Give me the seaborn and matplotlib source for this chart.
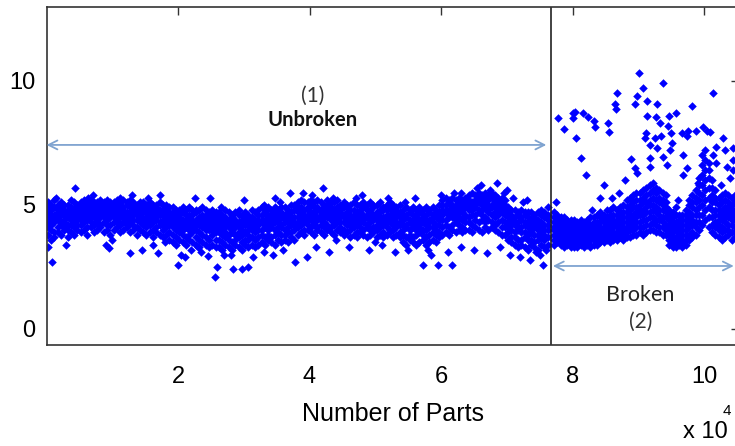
import numpy as np
import pandas as pd
import matplotlib
matplotlib.use("Agg")
import matplotlib.pyplot as plt
import seaborn as sns

# ---------------- data (x in units of 10^4 parts, y in tenths for the dense bands) -------------
unb_start, unb_step = 0.02, 0.05
unb_band = [
    # A 0.02-0.47
    [38,41,43,45,47,49,51],[36,40,42,44,46,48,50],[37,39,43,45,46,49,52],[39,41,44,45,47,48,50],
    [38,42,43,46,47,49,51],[40,41,43,44,46,48,50],[37,40,42,45,47,48,50],[39,42,44,46,47,49,52],
    [38,41,43,45,46,48,51],[40,42,44,45,47,49,50],
    # B 0.52-1.47
    [39,42,44,46,48,49,51],[40,43,45,46,47,50,52],[38,41,44,46,48,49,51],[41,43,45,47,48,50,52],
    [39,42,45,46,47,49,51],[40,43,44,46,48,50,51],[41,42,45,47,49,50,52],[39,43,45,46,48,49,51],
    [40,42,44,47,48,50,52],[38,42,45,46,48,49,51],[40,43,45,47,48,50,51],[41,43,44,46,47,49,52],
    [39,42,45,47,48,50,51],[40,43,45,46,48,49,52],[41,42,44,46,47,50,51],[39,43,45,47,49,50,52],
    [40,42,44,46,48,49,51],[38,41,44,46,47,49,50],[40,43,45,46,48,50,51],[39,42,44,47,48,49,51],
    # C 1.52-1.87
    [38,41,43,45,47,48,50],[39,42,44,46,47,49,51],[37,40,43,45,46,48,50],[39,41,44,45,47,49,50],
    [38,42,43,46,47,48,51],[37,40,42,44,46,48,50],[38,41,43,45,47,49,50],[36,39,42,44,46,47,49],
    # D 1.92-2.57
    [35,38,41,43,45,47,49],[34,37,40,42,44,46,48],[36,39,41,43,45,46,48],[35,38,40,42,44,47,49],
    [34,37,41,43,44,46,48],[36,38,40,42,45,46,49],[35,39,41,43,44,46,48],[34,37,40,42,44,47,48],
    [33,36,39,42,44,45,48],[35,38,41,43,45,46,49],[34,37,40,42,44,46,48],[33,36,40,41,43,45,47],
    [34,38,40,42,44,46,48],[33,36,39,41,43,45,47],
    # E 2.62-3.17
    [33,36,39,41,43,45,47],[32,35,38,40,42,44,46],[34,37,39,41,43,45,48],[33,36,38,41,42,44,47],
    [32,35,39,40,43,45,46],[34,36,38,41,42,44,47],[33,37,39,41,43,46,48],[32,35,38,40,42,44,46],
    [34,36,39,42,43,45,47],[33,36,38,40,42,44,46],[34,37,40,41,43,45,48],[33,36,39,41,42,44,47],
    # F 3.22-3.77
    [34,37,40,42,44,46,48],[35,38,40,43,44,46,49],[34,37,41,42,44,47,48],[36,38,40,43,45,46,49],
    [35,37,41,42,44,46,48],[34,38,40,43,45,47,49],[36,39,41,43,44,46,48],[35,38,41,42,45,47,49],
    [36,38,40,43,44,46,49],[35,39,41,43,45,47,48],[37,39,42,44,45,47,50],[36,40,42,43,45,48,50],
    # G 3.82-4.57
    [38,41,43,45,47,49,51],[39,42,44,46,47,49,52],[38,40,43,45,46,48,51],[40,42,44,46,48,49,51],
    [39,41,44,45,47,50,52],[38,42,43,46,47,49,51],[40,41,44,45,48,49,52],[39,42,44,46,47,48,51],
    [38,41,43,45,47,49,50],[40,42,45,46,48,50,52],[39,41,44,46,47,49,51],[38,42,43,45,46,48,51],
    [40,43,44,46,48,49,52],[39,41,43,45,47,48,50],[38,40,43,45,46,49,51],[39,42,44,46,47,49,50],
    # H 4.62-5.37
    [37,40,42,44,46,48,50],[38,41,43,45,46,48,51],[37,39,42,44,45,47,50],[39,41,43,45,47,48,50],
    [38,40,43,44,46,49,51],[37,41,42,45,46,48,50],[38,40,43,44,47,48,51],[39,41,44,45,46,49,50],
    [37,40,42,44,46,47,50],[38,41,43,45,47,48,51],[37,39,42,44,45,48,49],[38,41,43,44,46,48,50],
    [39,40,43,45,46,49,51],[37,40,42,44,47,48,50],[38,41,43,45,46,48,49],[37,39,42,43,45,47,50],
    # I 5.42-5.97
    [35,38,40,42,44,46,48],[34,37,41,42,45,46,49],[36,38,40,43,44,47,48],[35,37,41,42,44,46,49],
    [34,38,40,43,45,46,48],[35,39,41,42,44,47,49],[36,38,40,43,45,46,48],[34,37,40,42,44,46,49],
    [35,38,41,43,44,47,48],[36,39,41,43,45,46,49],[35,38,40,42,45,47,48],[37,39,42,44,45,47,50],
    # J 6.02-6.37
    [38,41,44,46,48,50,52],[39,42,44,47,48,50,53],[38,41,45,46,48,51,52],[40,42,45,47,49,50,53],
    [39,43,44,46,48,50,52],[40,42,45,47,49,51,53],[39,41,44,47,48,50,52],[40,43,45,46,49,51,53],
    # K 6.42-6.97
    [40,43,45,48,50,52,54],[39,42,46,48,49,51,55],[41,44,46,49,50,52,54],[40,43,47,48,51,53,55],
    [39,44,46,48,50,52,54],[41,43,45,49,51,53,55],[40,44,47,48,50,52,54],[41,43,46,49,50,53,55],
    [40,42,45,47,49,51,54],[39,43,46,48,50,52,53],[38,41,44,47,49,51,53],[38,41,43,46,48,50,52],
    # L 7.02-7.62
    [36,39,41,43,45,47,49],[35,37,40,42,44,46,48],[34,37,39,42,43,45,48],[33,36,40,41,43,46,47],
    [34,36,39,41,44,45,48],[33,37,39,42,43,46,47],[32,36,38,41,43,45,47],[34,36,39,40,42,44,47],
    [33,35,38,41,43,45,46],[32,36,38,40,42,44,47],[34,37,39,41,43,46,48],[33,36,38,40,42,45,47],
    [34,37,40,42,44,46,49],
]

unb_out_x = [0.08,0.03,0.9,0.95,1.27,1.45,1.7,1.62,2.0,2.05,2.1,2.2,2.35,2.45,2.56,2.59,2.7,2.84,
             2.97,3.07,3.14,3.3,3.45,3.6,3.78,3.96,4.1,4.3,4.6,4.9,5.1,5.3,5.5,5.73,5.85,5.96,6.1,
             6.17,6.3,6.5,6.7,6.9,7.05,7.2,7.35,7.45,7.55,7.6,
             0.43,0.63,1.12,1.72,2.26,2.49,3.0,3.48,3.7,4.04,4.2,4.36,4.8,5.2,5.6,6.0,6.3,6.55,
             6.75,6.85,6.95,7.1,7.3,
             0.3,0.7,1.0,1.3,1.8,2.3,2.8,3.3,3.9,4.4,4.7,5.0,5.45,5.8,6.2,6.6,7.0,7.25,7.5,0.15,
             1.55,2.65,3.55]
unb_out_y = [2.7,3.3,3.4,3.25,3.06,3.2,3.06,3.4,2.6,3.0,2.9,3.2,3.1,2.95,2.1,2.5,3.0,2.4,
             2.4,2.5,2.9,3.1,3.0,3.2,2.7,2.9,3.3,3.1,3.3,3.2,3.4,3.1,3.2,2.6,3.0,2.6,3.1,
             2.6,3.3,3.2,3.06,3.3,3.0,2.9,2.8,3.1,2.6,3.2,
             5.7,5.3,5.3,5.4,5.3,5.3,5.2,5.3,5.5,5.4,5.7,5.3,5.4,5.3,5.3,5.4,5.5,5.7,
             5.6,5.9,5.5,5.3,5.2,
             3.4,5.4,3.6,5.4,3.5,3.3,3.0,5.0,5.5,3.6,5.3,3.5,5.1,3.2,5.5,5.8,5.6,5.1,3.0,5.3,
             5.3,4.9,5.1]

brk_start, brk_step = 7.72, 0.05
brk_band = [
    # 7.72-7.97
    [34,36,38,40,41,43,45,47],[35,37,38,39,41,42,44,46],[34,36,37,39,40,42,43,45],
    [33,35,37,38,40,41,43,45],[34,35,37,39,40,42,43,44],[33,35,36,38,39,41,42,44],
    # 8.02-8.37
    [33,35,36,38,39,40,42,44],[33,34,36,37,39,40,42,43],[34,35,37,38,39,41,42,44],
    [33,35,36,37,39,40,41,43],[34,35,37,38,40,41,43,44],[33,34,36,38,39,41,42,45],
    [34,36,37,39,40,42,43,45],[34,35,37,38,40,41,43,46],
    # 8.42-8.77
    [35,37,38,40,41,43,45,47],[35,36,38,39,41,43,44,46],[36,37,39,40,42,44,45,48],
    [35,37,39,41,42,44,46,48],[36,38,39,41,43,44,46,49],[36,37,39,41,42,44,46,48],
    [37,38,40,42,43,45,47,49],[36,38,40,41,43,45,47,50],
    # 8.82-9.07
    [37,39,41,43,45,47,49,52],[37,40,42,44,46,48,50,53],[38,40,42,44,46,49,51,54],
    [38,41,43,45,47,49,52,55],[39,41,43,46,48,50,52,55],[38,41,44,46,48,51,53,56],
    # 9.12-9.42
    [39,42,44,47,49,51,54,57],[40,42,45,47,50,52,55,58],[40,43,45,48,50,53,56,59],
    [39,42,44,47,49,52,55,57],[39,41,44,46,48,51,53,56],[38,41,43,45,48,50,52,55],
    [38,40,42,45,47,49,51,54],
    # 9.47-9.72
    [34,36,38,40,42,44,46,48],[33,35,37,39,41,43,45,47],[33,35,37,40,41,43,46,49],
    [34,36,38,39,41,42,44,46],[33,35,36,38,40,42,44,46],[34,36,38,40,42,44,46,48],
    # 9.77-9.92
    [36,38,41,43,45,47,50,52],[37,39,42,44,46,49,51,54],[38,41,43,46,48,51,53,56],
    [40,43,46,49,52,55,58,61],
    # 9.97-10.07
    [42,46,50,54,58,62,66,70],[44,48,52,56,60,64,68,72],[41,45,49,53,57,61,64,67],
    # 10.12-10.17
    [39,42,45,48,51,54,57,60],[38,41,43,46,48,51,53,56],
    # 10.22-10.47
    [37,40,42,44,46,48,50,53],[36,39,41,44,46,48,51,54],[37,40,43,45,47,49,52,55],
    [38,40,42,45,47,49,51,54],[36,39,42,44,46,48,50,53],[37,39,41,44,46,48,51,54],
]

brk_out_x = [7.78,7.87,8.01,8.04,8.0,8.16,8.24,8.33,8.34,8.05,8.13,8.2,8.54,8.56,8.68,8.65,8.66,
             8.47,8.42,8.71,8.8,8.89,8.98,8.95,8.98,9.01,9.07,9.13,9.28,9.37,9.13,9.27,9.33,9.47,
             9.57,9.12,9.1,9.18,9.25,9.35,9.45,9.5,9.51,9.28,9.48,9.17,9.38,9.44,9.18,8.95,9.66,
             9.74,9.82,9.68,9.74,9.68,9.76,9.88,9.98,10.04,10.09,10.14,10.18,10.29,10.35,10.32,
             10.14,10.18,10.44,10.44,10.44,7.75,8.3,8.6,9.6,9.9,10.25,10.4]
brk_out_y = [8.5,8.06,8.7,8.75,8.5,8.7,8.55,8.4,8.15,7.7,6.9,6.2,8.3,7.95,9.5,9.07,8.87,
             5.8,5.3,5.5,6.0,6.85,6.3,9.07,9.4,10.3,9.7,9.2,9.07,9.9,8.6,8.55,8.3,8.6,
             8.7,7.9,7.7,7.4,7.7,7.8,8.2,7.9,7.5,7.3,7.2,6.9,6.95,6.6,6.55,6.5,7.9,
             7.8,9.0,7.0,6.5,6.2,8.0,8.0,8.15,8.0,7.95,9.5,7.35,7.7,6.55,7.2,
             7.0,6.7,7.3,6.8,6.4,5.1,4.8,5.3,5.2,5.9,5.8,6.1]

x_ticks = [2, 4, 6, 8, 10]
y_ticks = [0, 5, 10]
split_x = 7.67

# ---------------- build table ----------------
xs, ys = [], []
for i, col in enumerate(unb_band):
    for v in col:
        xs.append(unb_start + i * unb_step); ys.append(v / 10)
for i, col in enumerate(brk_band):
    for v in col:
        xs.append(brk_start + i * brk_step); ys.append(v / 10)
xs += unb_out_x + brk_out_x
ys += unb_out_y + brk_out_y
df = pd.DataFrame({"parts": xs, "value": ys})

# ---------------- plot ----------------
sns.set_theme(style="white")
plt.rcParams["font.family"] = ["Liberation Sans", "DejaVu Sans"]
plt.rcParams["text.color"] = "black"

fig = plt.figure(figsize=(7.35, 4.46), dpi=100)
ax = fig.add_axes([46.5/735, (446-345)/446, (739-46.5)/735, (345-7)/446])

sns.scatterplot(data=df, x="parts", y="value", ax=ax, marker="D", s=19,
                color="#0000ff", linewidth=0, legend=False)

ax.axvline(split_x, color="#222222", lw=1.2)

arrow_col = "#7fa3d0"
ax.annotate("", xy=(0.0, 7.42), xytext=(7.6, 7.42),
            arrowprops=dict(arrowstyle="<->", color=arrow_col, lw=1.3, mutation_scale=16,
                            shrinkA=0, shrinkB=0), annotation_clip=False)
ax.annotate("", xy=(7.7, 2.54), xytext=(10.45, 2.54),
            arrowprops=dict(arrowstyle="<->", color=arrow_col, lw=1.3, mutation_scale=16,
                            shrinkA=0, shrinkB=0), annotation_clip=False)

ax.text(4.05, 9.4, "(1)", ha="center", va="center", fontsize=15, color="#333333", family="Lato")
ax.text(4.05, 8.43, "Unbroken", ha="center", va="center", fontsize=14.5, fontweight="bold",
        color="#111111", family="Lato")
ax.text(9.03, 1.37, "Broken", ha="center", va="center", fontsize=15.5, color="#222222", family="Lato")
ax.text(9.03, 0.28, "(2)", ha="center", va="center", fontsize=15, color="#333333", family="Lato")

ax.set_xlim(0, 10.53)
ax.set_ylim(-0.645, 12.98)
ax.set_xticks(x_ticks)
ax.set_yticks(y_ticks)
ax.set_xticklabels([str(t) for t in x_ticks])
ax.set_yticklabels([str(t) for t in y_ticks])
ax.tick_params(axis="both", direction="in", length=6, width=1.0, color="#333333",
               labelsize=17, labelcolor="black", top=True, right=True)
ax.tick_params(axis="x", pad=15)
ax.tick_params(axis="y", pad=8)
for s in ax.spines.values():
    s.set_color("#333333"); s.set_linewidth(1.2); s.set_visible(True)
ax.set_xlabel("Number of Parts", fontsize=18, labelpad=10, color="black")
ax.set_ylabel("")

fig.text(683/735, 1 - 432/446, "x 10", fontsize=17, va="center", ha="left", color="black")
fig.text(723/735, 1 - 411/446, "4", fontsize=11, va="center", ha="left", color="black")

fig.savefig("out.png", dpi=100)
